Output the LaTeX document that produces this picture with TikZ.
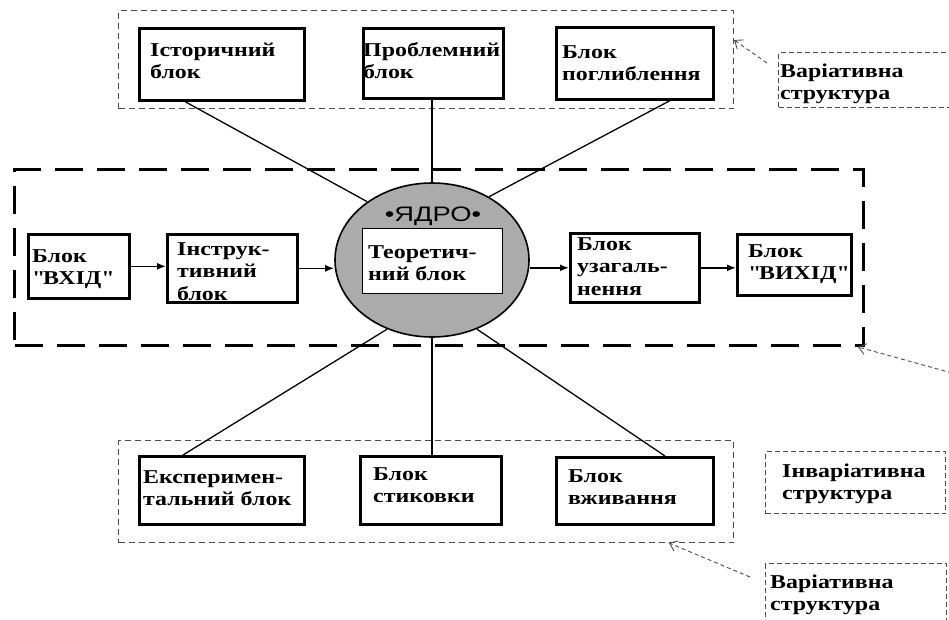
\documentclass[tikz,border=0pt]{standalone}
\usepackage{fontspec}
\setmainfont{Liberation Serif}[FakeStretch=1.22]
\newfontfamily\yfont{Liberation Sans}[FakeStretch=1.3]
\usetikzlibrary{shapes.geometric,arrows.meta}
\begin{document}
\begin{tikzpicture}[x=1pt,y=-1pt,
  blk/.style={draw, line width=2.6pt, fill=white, inner sep=0pt, anchor=north west},
  txt/.style={anchor=north west, inner sep=0pt, align=left, font=\bfseries\fontsize{19.6}{22.5}\selectfont},
  grp/.style={draw=black!70, line width=1pt, dash pattern=on 6pt off 4pt, inner sep=0pt, anchor=north west},
  coregrp/.style={draw, line width=3pt, dash pattern=on 28pt off 14pt, inner sep=0pt, anchor=north west},
  labbox/.style={draw=black!70, line width=1pt, dash pattern=on 5pt off 3pt, inner sep=0pt, anchor=north west},
  conn/.style={line width=1.3pt},
  arr/.style={line width=1.6pt, -{Latex[length=9pt,width=7pt]}},
  pointer/.style={draw=black!70, line width=0.9pt, dash pattern=on 4pt off 3pt, -{Straight Barb[length=7pt,width=11pt]}}]
\useasboundingbox (0,0) rectangle (949,619);

% groups
\node[grp, minimum width=615pt, minimum height=98pt] (topg) at (118,10) {};
\node[coregrp, minimum width=849pt, minimum height=176pt] (coreg) at (13,168) {};
\node[grp, minimum width=615pt, minimum height=102pt] (botg) at (118,440) {};

% boxes
\node[blk, minimum width=165pt, minimum height=72pt] (hist) at (138,27) {};
\node[blk, minimum width=140pt, minimum height=70pt] (probl) at (362,27) {};
\node[blk, minimum width=157pt, minimum height=72pt] (pogl) at (555,26) {};

\node[blk, minimum width=101pt, minimum height=64pt] (vhid) at (27,233) {};
\node[blk, minimum width=130pt, minimum height=68pt] (instr) at (166,233) {};
\node[blk, minimum width=129pt, minimum height=69pt] (uzag) at (569,232) {};
\node[blk, minimum width=114pt, minimum height=61pt] (vyhid) at (736,233) {};

\node[blk, minimum width=165pt, minimum height=68pt] (exp) at (138,455) {};
\node[blk, minimum width=141pt, minimum height=68pt] (styk) at (359,455) {};
\node[blk, minimum width=157pt, minimum height=67pt] (vzhyv) at (555,456) {};

% core
\node[ellipse, draw, line width=1.6pt, fill=black!33, minimum width=194pt, minimum height=154pt, inner sep=0pt] (core) at (432,260) {};
\node[draw, line width=1.2pt, fill=white, minimum width=140pt, minimum height=65pt, anchor=north west, inner sep=0pt] (teor) at (362,228) {};
\node[inner sep=0pt, font=\yfont\fontsize{21}{22}\selectfont] (yadro) at (433,216) {•ЯДРО•};

% connectors to core
\coordinate (hs) at ([xshift=47pt]hist.south west);
\coordinate (ps) at ([xshift=115pt]pogl.south west);
\coordinate (es) at ([xshift=45pt]exp.north west);
\coordinate (vs) at ([xshift=110pt]vzhyv.north west);
\draw[conn] (hs) -- (core.138);
\draw[conn] (probl.south -| core.north) -- (core.north);
\draw[conn] (ps) -- (core.48);
\draw[conn] (core.237) -- (es);
\draw[conn] (core.south) -- (core.south |- styk.north);
\draw[conn] (core.303) -- (vs);

% arrows
\draw[arr] (vhid.east) -- (vhid.east -| instr.west);
\draw[arr] (instr.east) -- (instr.east -| core.west);
\draw[arr] (uzag.west -| core.east) -- (uzag.west);
\draw[arr] (uzag.east) -- (uzag.east -| vyhid.west);

% labels
\node[labbox, minimum width=180pt, minimum height=55pt] (lab1) at (778,52) {};
\node[labbox, minimum width=180pt, minimum height=62pt] (lab2) at (765,451) {};
\node[labbox, minimum width=181pt, minimum height=62pt] (lab3) at (765,563) {};
\coordinate (p1) at ([xshift=-11pt,yshift=-11pt]lab1.north west);
\coordinate (p2) at (952,373);
\coordinate (p3) at ([xshift=-15pt,yshift=-14pt]lab3.north west);
\draw[pointer] (p1) -- ([yshift=-30pt]topg.north east);
\draw[pointer] (p2) -- ([xshift=-7pt]coreg.south east);
\draw[pointer] (p3) -- ([xshift=-65pt]botg.south east);

% texts
\node[txt] (histT) at (150,40.25) {\strut Історичний\\\strut блок};
\node[txt] (problT) at (363,40.25) {\strut Проблемний\\\strut блок};
\node[txt] (poglT) at (562,42.25) {\strut Блок\\\strut поглиблення};
\node[txt] (vhidT) at (32,246.25) {\strut Блок\\\strut \textquotedbl ВХІД\textquotedbl};
\node[txt] (instrT) at (177,239.25) {\strut Інструк-\\\strut тивний\\\strut блок};
\node[txt] (teorT) at (368,242.25) {\strut Теоретич-\\\strut ний блок};
\node[txt] (uzagT) at (577,234.25) {\strut Блок\\\strut узагаль-\\\strut нення};
\node[txt] (vyhidT) at (748,241.25) {\strut Блок\\\strut \textquotedbl ВИХІД\textquotedbl};
\node[txt] (expT) at (143,467.25) {\strut Експеримен-\\\strut тальний блок};
\node[txt] (stykT) at (373,464.25) {\strut Блок\\\strut стиковки};
\node[txt] (vzhyvT) at (568,466.25) {\strut Блок\\\strut вживання};
\node[txt] (lab1T) at (780,61.25) {\strut Варіативна\\\strut структура};
\node[txt] (lab2T) at (782,461.25) {\strut Інваріативна\\\strut структура};
\node[txt] (lab3T) at (770,572.25) {\strut Варіативна\\\strut структура};
\end{tikzpicture}
\end{document}
